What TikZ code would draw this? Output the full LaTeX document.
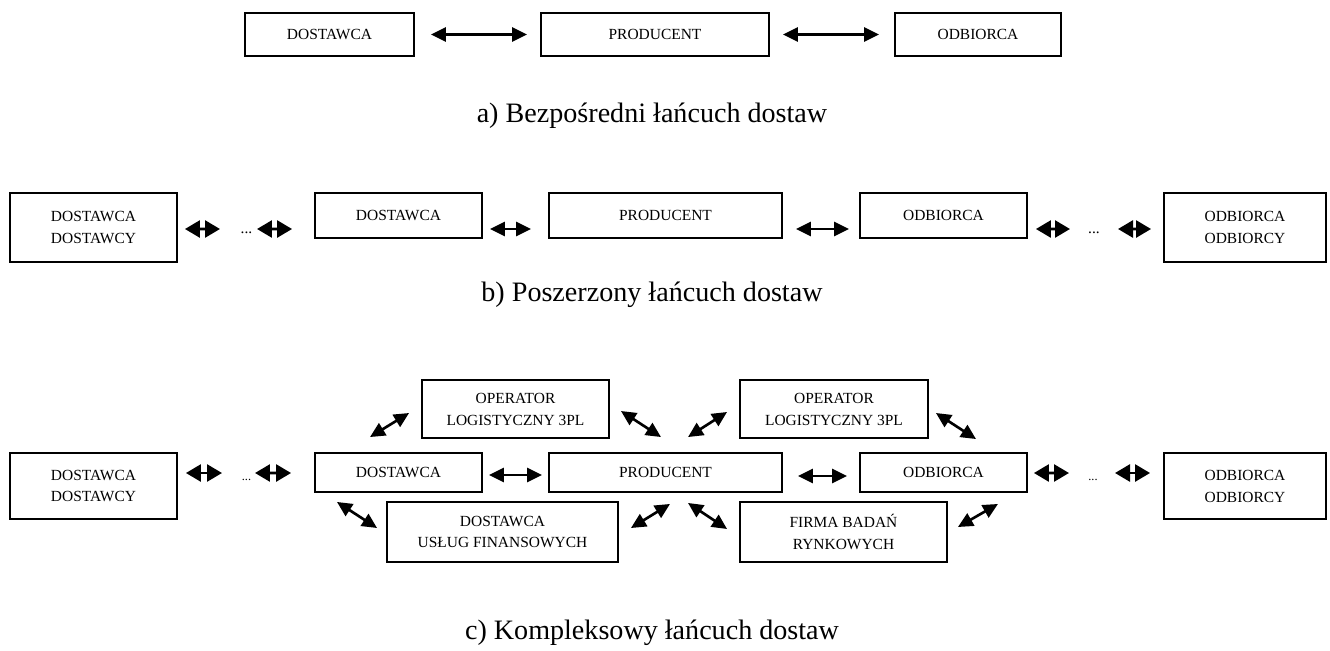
\documentclass[tikz,border=0pt]{standalone}
\usepackage{fontspec}
\setmainfont{Liberation Serif}
\usetikzlibrary{arrows.meta}

\tikzset{
  blok/.style={draw, line width=1.1pt, inner sep=0pt, align=center,
    font=\fontsize{8.8}{12.5}\selectfont},
  dwa/.style={{Triangle[length=0.3cm,width=0.28cm]}-{Triangle[length=0.3cm,width=0.28cm]}, line width=1.5pt},
  gruby/.style={{Triangle[length=0.3cm,width=0.34cm]}-{Triangle[length=0.3cm,width=0.34cm]}, line width=1.5pt},
  kropki/.style={inner sep=0pt, font=\fontsize{8.8}{10}\selectfont},
  podpis/.style={font=\fontsize{16}{19}\selectfont}
}

\begin{document}
\begin{tikzpicture}[x=0.02cm, y=-0.02cm]
  \useasboundingbox (0,0) rectangle (1330,650);

  % a) bezposredni
  \node[blok, minimum width=3.38cm, minimum height=0.86cm] (aS) at (329.5,34.5) {DOSTAWCA};
  \node[blok, minimum width=4.56cm, minimum height=0.86cm] (aP) at (655,34.5) {PRODUCENT};
  \node[blok, minimum width=3.32cm, minimum height=0.86cm] (aO) at (978,34.5) {ODBIORCA};
  \draw[dwa] ([shift={(16,0)}]aS.east) -- ([shift={(-13,0)}]aP.west);
  \draw[dwa] ([shift={(13,0)}]aP.east) -- ([shift={(-15,0)}]aO.west);
  \node[podpis] (capA) at (652,116) {a) Bezpośredni łańcuch dostaw};

  % b) poszerzony
  \node[blok, minimum width=3.34cm, minimum height=1.38cm] (bSS) at (93.5,227.5) {DOSTAWCA\\DOSTAWCY};
  \node[blok, minimum width=3.34cm, minimum height=0.9cm] (bS) at (398.5,215.5) {DOSTAWCA};
  \node[blok, minimum width=4.66cm, minimum height=0.9cm] (bP) at (665.5,215.5) {PRODUCENT};
  \node[blok, minimum width=3.34cm, minimum height=0.9cm] (bO) at (943.5,215.5) {ODBIORCA};
  \node[blok, minimum width=3.24cm, minimum height=1.38cm] (bOO) at (1245,227.5) {ODBIORCA\\ODBIORCY};
  \node[kropki] (bD1) at (246.5,233) {...};
  \node[kropki] (bD2) at (1094,233) {...};
  \draw[gruby] ([shift={(7,1.5)}]bSS.east) -- ([shift={(-26.5,-4)}]bD1.center);
  \draw[gruby] ([shift={(10.5,-4)}]bD1.center) -- ([shift={(-22,13.5)}]bS.west);
  \draw[dwa] ([shift={(7,13.5)}]bS.east) -- ([shift={(-17,13.5)}]bP.west);
  \draw[dwa] ([shift={(13,13.5)}]bP.east) -- ([shift={(-10,13.5)}]bO.west);
  \draw[gruby] ([shift={(8,13.5)}]bO.east) -- ([shift={(-24,-4)}]bD2.center);
  \draw[gruby] ([shift={(24,-4)}]bD2.center) -- ([shift={(-12,1.5)}]bOO.west);
  \node[podpis] (capB) at (652,295) {b) Poszerzony łańcuch dostaw};

  % c) kompleksowy
  \node[blok, minimum width=3.74cm, minimum height=1.16cm] (cL1) at (515.5,409) {OPERATOR\\LOGISTYCZNY 3PL};
  \node[blok, minimum width=3.76cm, minimum height=1.16cm] (cL2) at (834,409) {OPERATOR\\LOGISTYCZNY 3PL};
  \node[blok, minimum width=3.34cm, minimum height=1.32cm] (cSS) at (93.5,486) {DOSTAWCA\\DOSTAWCY};
  \node[blok, minimum width=3.34cm, minimum height=0.78cm] (cS) at (398.5,472.5) {DOSTAWCA};
  \node[blok, minimum width=4.66cm, minimum height=0.78cm] (cP) at (665.5,472.5) {PRODUCENT};
  \node[blok, minimum width=3.34cm, minimum height=0.78cm] (cO) at (943.5,472.5) {ODBIORCA};
  \node[blok, minimum width=3.24cm, minimum height=1.32cm] (cOO) at (1245,486) {ODBIORCA\\ODBIORCY};
  \node[blok, minimum width=4.62cm, minimum height=1.2cm] (cF) at (502.5,532) {DOSTAWCA\\USŁUG FINANSOWYCH};
  \node[blok, minimum width=4.14cm, minimum height=1.2cm] (cR) at (843.5,532) {FIRMA BADAŃ\\RYNKOWYCH};
  \node[kropki, font=\fontsize{7}{8}\selectfont] (cD1) at (246.5,480) {...};
  \node[kropki, font=\fontsize{7}{8}\selectfont] (cD2) at (1093,480) {...};
  \draw[gruby] ([shift={(8,-13)}]cSS.east) -- ([shift={(-24.5,-7)}]cD1.center);
  \draw[gruby] ([shift={(8.5,-7)}]cD1.center) -- ([shift={(-23,0.5)}]cS.west);
  \draw[dwa] ([shift={(6,2.5)}]cS.east) -- ([shift={(-6,2.5)}]cP.west);
  \draw[dwa] ([shift={(15,3.5)}]cP.east) -- ([shift={(-12,3.5)}]cO.west);
  \draw[gruby] ([shift={(6,0.5)}]cO.east) -- ([shift={(-24,-7)}]cD2.center);
  \draw[gruby] ([shift={(22,-7)}]cD2.center) -- ([shift={(-13,-13)}]cOO.west);
  % ukosne
  \draw[dwa] ([shift={(-28.5,-15)}]cS.north) -- ([shift={(-12,4)}]cL1.west);
  \draw[dwa] ([shift={(11,2)}]cL1.east) -- ([shift={(-4.5,-15)}]cP.north);
  \draw[dwa] ([shift={(22.5,-15)}]cP.north) -- ([shift={(-12,3)}]cL2.west);
  \draw[dwa] ([shift={(7,4)}]cL2.east) -- ([shift={(32.5,-13)}]cO.north);
  \draw[dwa] ([shift={(-61.5,9)}]cS.south) -- ([shift={(-9,-4)}]cF.west);
  \draw[dwa] ([shift={(12,-4)}]cF.east) -- ([shift={(4.5,11)}]cP.south);
  \draw[dwa] ([shift={(22.5,10)}]cP.south) -- ([shift={(-12,-3)}]cR.west);
  \draw[dwa] ([shift={(10,-5)}]cR.east) -- ([shift={(54.5,11)}]cO.south);
  \node[podpis] (capC) at (652,633) {c) Kompleksowy łańcuch dostaw};
\end{tikzpicture}
\end{document}
